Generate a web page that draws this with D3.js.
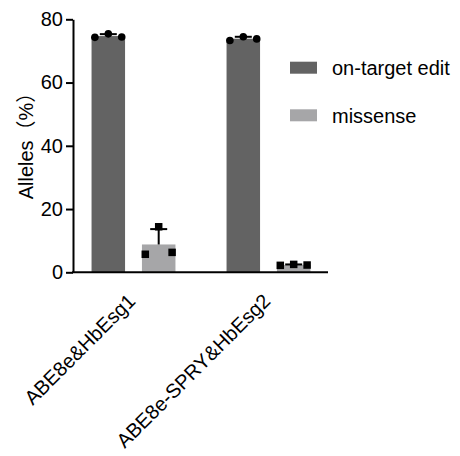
<!DOCTYPE html>
<html>
<head>
<meta charset="utf-8">
<script src="https://cdn.jsdelivr.net/npm/d3@7"></script>
<style>
  html, body { margin: 0; padding: 0; background: #fff; }
  svg text { font-family: "Liberation Sans", Arial, "Noto Sans CJK SC", sans-serif; fill: #000; }
</style>
</head>
<body>
<svg id="chart" width="460" height="456"></svg>
<script>
// Groups on the x axis and the two measured series
const groups = ["ABE8e&HbEsg1", "ABE8e-SPRY&HbEsg2"];
const seriesNames = ["on-target edit", "missense"];
const seriesColors = ["#636363", "#a6a6a8"];
const seriesMarkers = ["circle", "square"];

// Replicate values (% alleles), three per group
const onTargetReps = [[74.3, 75.4, 74.4], [73.3, 74.5, 73.8]];
const missenseReps = [[5.7, 14.4, 6.3], [2.2, 2.5, 2.3]];

const yTicks = [0, 20, 40, 60, 80];
const yTitle = "Alleles（%）";

const svg = d3.select("#chart");

const axisX = 73, axisBottom = 272.3, axisTop = 19.3, axisRight = 328;

const y = d3.scaleLinear().domain([0, 80]).range([axisBottom, axisTop]);
const x0 = d3.scaleBand().domain(groups).range([66, 336]).padding(0);
const x1 = d3.scaleBand().domain(seriesNames).range([0, x0.bandwidth()])
  .paddingInner(0.335).paddingOuter(0.507);

const mean = a => d3.mean(a);
const sd = a => d3.deviation(a);

const allReps = [onTargetReps, missenseReps];
const bars = [];
groups.forEach((g, gi) => {
  seriesNames.forEach((s, si) => {
    const reps = allReps[si][gi];
    bars.push({ group: g, series: s, si, reps, mean: mean(reps), sd: sd(reps) });
  });
});

// Bars
svg.append("g").selectAll("rect").data(bars).join("rect")
  .attr("x", d => x0(d.group) + x1(d.series))
  .attr("width", x1.bandwidth())
  .attr("y", d => y(d.mean))
  .attr("height", d => y(0) - y(d.mean))
  .attr("fill", d => seriesColors[d.si]);

// Error bars (mean + SD, upward)
const capHalf = 8.5;
const eg = svg.append("g").attr("stroke", "#000").attr("stroke-width", 2);
bars.forEach(d => {
  const cx = x0(d.group) + x1(d.series) + x1.bandwidth() / 2;
  eg.append("line").attr("x1", cx).attr("x2", cx)
    .attr("y1", y(d.mean)).attr("y2", y(d.mean + d.sd));
  eg.append("line").attr("x1", cx - capHalf).attr("x2", cx + capHalf)
    .attr("y1", y(d.mean + d.sd)).attr("y2", y(d.mean + d.sd));
});

// Replicate points
const pg = svg.append("g");
bars.forEach(d => {
  const cx = x0(d.group) + x1(d.series) + x1.bandwidth() / 2;
  d.reps.forEach((v, i) => {
    const px = cx + (i - 1) * 0.4 * x1.bandwidth();
    if (seriesMarkers[d.si] === "circle") {
      pg.append("circle").attr("cx", px).attr("cy", y(v)).attr("r", 3.8).attr("fill", "#000");
    } else {
      const s = 7.5;
      pg.append("rect").attr("x", px - s / 2).attr("y", y(v) - s / 2)
        .attr("width", s).attr("height", s).attr("fill", "#000");
    }
  });
});

// Y axis
const yAxis = svg.append("g").attr("transform", `translate(${axisX},0)`)
  .call(d3.axisLeft(y).tickValues(yTicks).tickSize(7).tickPadding(3).tickSizeOuter(0));
yAxis.select(".domain").attr("stroke", "#000").attr("stroke-width", 2);
yAxis.selectAll(".tick line").attr("stroke", "#000").attr("stroke-width", 2);
yAxis.selectAll(".tick text").attr("font-size", 20).attr("fill", "#000")
  .style("font-family", '"Liberation Sans", Arial, sans-serif');

// X axis baseline
svg.append("line").attr("x1", axisX - 1).attr("x2", axisRight)
  .attr("y1", y(0)).attr("y2", y(0)).attr("stroke", "#000").attr("stroke-width", 2);

// Rotated group labels
svg.append("g").selectAll("text").data(groups).join("text")
  .attr("transform", d => `translate(${x0(d) + x0.bandwidth() / 2 + 3},${y(0) + 30}) rotate(-45)`)
  .attr("text-anchor", "end")
  .attr("font-size", 20)
  .text(d => d);

// Y axis title
svg.append("text")
  .attr("transform", `translate(33,141) rotate(-90)`)
  .attr("text-anchor", "middle")
  .attr("font-size", 20)
  .text(yTitle);

// Legend
const lg = svg.append("g");
seriesNames.forEach((s, i) => {
  const top = 61.7 + i * 47.6;
  lg.append("rect").attr("x", 290).attr("y", top).attr("width", 27).attr("height", 12)
    .attr("fill", seriesColors[i]);
  lg.append("text").attr("x", 332).attr("y", top + 13.3).attr("font-size", 20).text(s);
});
</script>
</body>
</html>
